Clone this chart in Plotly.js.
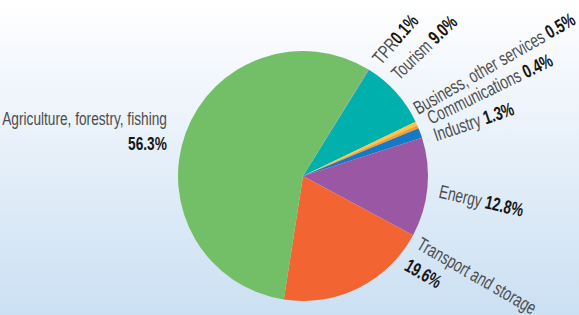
<!DOCTYPE html>
<html>
<head>
<meta charset="utf-8">
<script src="https://cdn.plot.ly/plotly-3.0.1.min.js"></script>
<style>
  html, body { margin: 0; padding: 0; }
  body { width: 579px; height: 315px; overflow: hidden;
         background: linear-gradient(to bottom, #ffffff 0%, #f6f9fd 18%, #cbe0f3 100%); }
  #chart { width: 579px; height: 315px; }
  /* condense the label text along its own direction */
  .annotation .annotation-text { transform-box: fill-box; transform-origin: left center; transform: scaleX(0.72); }
  .annotation[data-index="7"] .annotation-text { transform-origin: right center; }
</style>
</head>
<body>
<div id="chart"></div>
<script>
// ---- data ----
const categories = ["TPR", "Tourism", "Business, other services", "Communications",
                    "Industry", "Energy", "Transport and storage", "Agriculture, forestry, fishing"];
const shares = [0.1, 9.0, 0.5, 0.4, 1.3, 12.8, 19.6, 56.3];
const valueLabels = ["0.1%", "9.0%", "0.5%", "0.4%", "1.3%", "12.8%", "19.6%", "56.3%"];

// ---- styles ----
const colors = ["#e0508c", "#00b0ad", "#fcc54a", "#f99d31", "#1579c6", "#9a58a4", "#f26532", "#72bf67"];
const startAngle = 31.5;
const M = {l: 178, r: 151, t: 51, b: 14};
const W = 579, H = 315;
const pw = W - M.l - M.r, ph = H - M.t - M.b;
const cx = M.l + pw / 2, cy = M.t + ph / 2, R = Math.min(pw, ph) / 2;

// label style: rotation, anchors and pixel offsets from the slice mid-point on the rim
const labelStyle = [
  {angle: -49, xa: "left",  ya: "bottom", dx: -3,  dy: 1,   sep: ""},
  {angle: -44, xa: "left",  ya: "bottom", dx: -12, dy: -6,  sep: " "},
  {angle: -30, xa: "left",  ya: "bottom", dx: -9,  dy: -2,  sep: " "},
  {angle: -26, xa: "left",  ya: "bottom", dx: 3,   dy: 5,   sep: " "},
  {angle: -19, xa: "left",  ya: "bottom", dx: 8,   dy: 15,  sep: " "},
  {angle: 13,  xa: "left",  ya: "middle", dx: 7,   dy: 17,  sep: " "},
  {angle: 30,  xa: "left",  ya: "top",    dx: 40,  dy: -57, sep: "<br>", align: "left"},
  {angle: 0,   xa: "right", ya: "middle", dx: -17, dy: -2,  sep: "<br>", align: "right"}
];

const total = shares.reduce((a, b) => a + b, 0);
let cum = 0;
const annotations = categories.map((cat, i) => {
  const mid = startAngle + (cum + shares[i] / 2) / total * 360;
  cum += shares[i];
  const rad = mid * Math.PI / 180;
  const s = labelStyle[i];
  const px = cx + R * Math.sin(rad) + s.dx;
  const py = cy - R * Math.cos(rad) + s.dy;
  return {
    xref: "paper", yref: "paper",
    x: (px - M.l) / pw, y: (M.t + ph - py) / ph,
    xanchor: s.xa, yanchor: s.ya,
    textangle: s.angle,
    align: s.align || "left",
    showarrow: false,
    text: '<span style="color:#4d4d4d">' + cat + '</span>' + s.sep +
          '<b><span style="color:#151515">' + valueLabels[i] + '</span></b>',
    font: {family: "Liberation Sans, Arial, sans-serif", size: 19, color: "#4d4d4d"}
  };
});

const trace = {
  type: "pie",
  labels: categories,
  values: shares,
  sort: false,
  direction: "clockwise",
  rotation: startAngle,
  textinfo: "none",
  hoverinfo: "label+percent",
  marker: {colors: colors, line: {width: 0}},
  showlegend: false
};

Plotly.newPlot("chart", [trace], {
  width: W, height: H,
  margin: M,
  paper_bgcolor: "rgba(0,0,0,0)",
  plot_bgcolor: "rgba(0,0,0,0)",
  showlegend: false,
  annotations: annotations
}, {displayModeBar: false, staticPlot: true});
</script>
</body>
</html>
